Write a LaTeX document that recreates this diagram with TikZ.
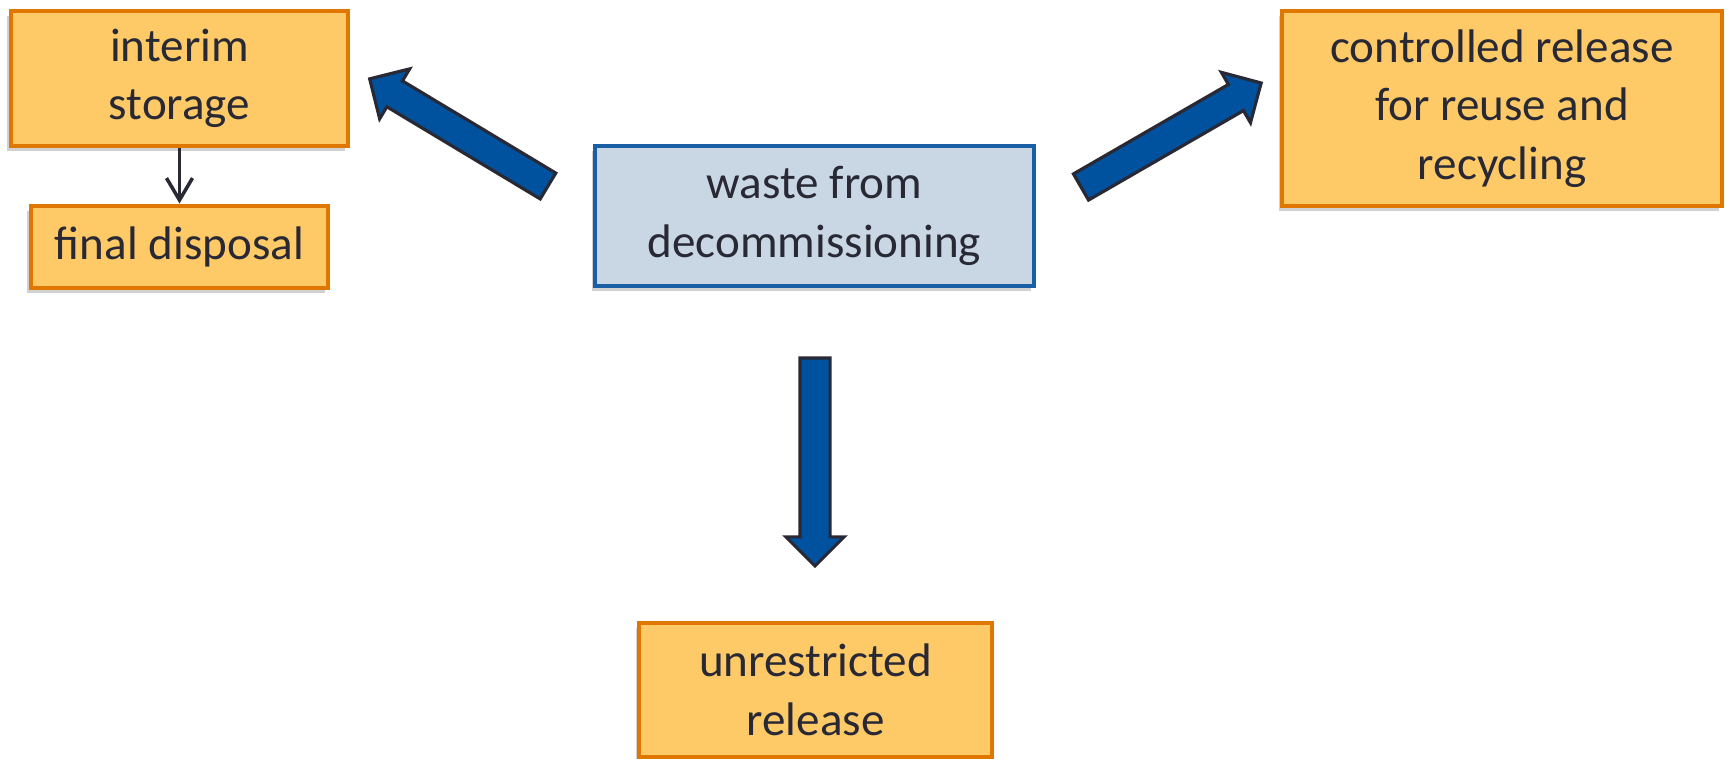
\documentclass[tikz,border=0pt]{standalone}
\usepackage{fontspec}
\setmainfont{Carlito}
\usepackage{tikz}
\usetikzlibrary{arrows.meta,shapes.arrows,shadows}
\definecolor{boxfill}{HTML}{FDCA67}
\definecolor{boxline}{HTML}{DF7700}
\definecolor{srcfill}{HTML}{C9D6E3}
\definecolor{srcline}{HTML}{1A5EA6}
\definecolor{flowblue}{HTML}{00529F}
\definecolor{inkdark}{HTML}{292935}
\tikzset{
  outcome/.style={rectangle, draw=boxline, line width=1.4pt, fill=boxfill, text=inkdark,
                  align=center, font=\fontsize{13.4}{16.7}\selectfont, inner sep=0pt,
                  drop shadow={shadow xshift=-0.035cm, shadow yshift=-0.05cm, opacity=0.3, fill=black!60}},
  source/.style={outcome, draw=srcline, fill=srcfill},
  bigarr/.style={single arrow, draw=inkdark, line width=0.9pt, fill=flowblue,
                 minimum height=2.08cm, inner xsep=0pt, inner ysep=0.135cm, outer sep=0pt,
                 single arrow head extend=0.14cm, single arrow tip angle=90, anchor=tail},
  arr/.style={-{Straight Barb[length=2.2mm, width=2.6mm]}, line width=1pt, draw=inkdark},
}
\begin{document}
\begin{tikzpicture}
  \useasboundingbox (0,0) rectangle (17.25,7.59);
  % boxes
  \node[outcome, minimum width=3.37cm, minimum height=1.35cm] (interim) at (1.795,6.805) {interim\\storage};
  \node[outcome, minimum width=2.97cm, minimum height=0.82cm] (final) at (1.795,5.12) {final disposal};
  \node[source, minimum width=4.39cm, minimum height=1.40cm] (waste) at (8.145,5.43) {waste from\\decommissioning};
  \node[outcome, minimum width=4.40cm, minimum height=1.95cm] (controlled) at (15.02,6.505) {controlled release\\for reuse and\\recycling};
  \node[outcome, minimum width=3.53cm, minimum height=1.34cm] (unrestricted) at (8.155,0.69) {unrestricted\\release};
  % block arrows
  \node[bigarr, rotate=149] (toInterim) at (5.48,5.73) {};
  \node[bigarr, rotate=30] (toControlled) at (10.81,5.72) {};
  \node[bigarr, rotate=-90] (toUnrestricted) at (8.15,4.01) {};
  \draw[arr] (interim) -- (final);
\end{tikzpicture}
\end{document}
